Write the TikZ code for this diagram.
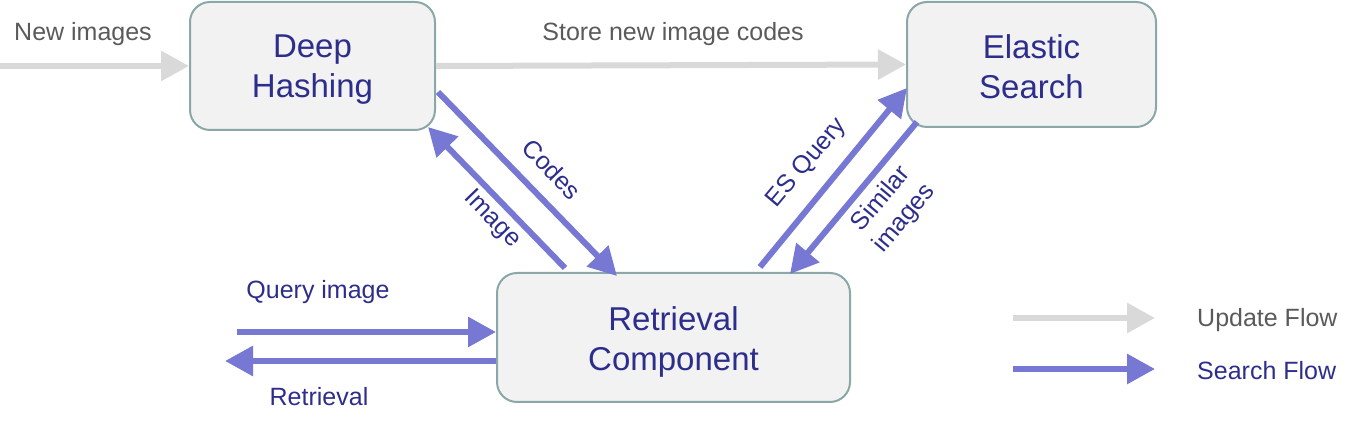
\documentclass[tikz,border=0pt]{standalone}
\usepackage{fontspec}
\setmainfont{Liberation Sans}
\usetikzlibrary{arrows.meta}
\definecolor{boxfill}{HTML}{F2F2F2}
\definecolor{boxline}{HTML}{8BA7A8}
\definecolor{upd}{HTML}{D9D9D9}
\definecolor{srch}{HTML}{7777D4}
\definecolor{navy}{HTML}{2D2D8C}
\definecolor{grtext}{HTML}{5A5A5A}
\tikzset{
  comp/.style={draw=boxline, fill=boxfill, line width=2pt, rounded corners=20pt, inner sep=0pt},
  comptext/.style={inner sep=0pt, align=center, text=navy, font=\fontsize{33}{40}\selectfont},
  updarrow/.style={draw=upd, line width=6pt, -{Triangle[length=28pt,width=29pt]}},
  srcharrow/.style={draw=srch, line width=6pt, -{Triangle[length=28pt,width=29pt]}},
  lbl/.style={font=\fontsize{25}{29}\selectfont, text=navy, inner sep=0pt, align=center},
  glbl/.style={font=\fontsize{25}{29}\selectfont, text=grtext, inner sep=0pt, align=center},
}
\begin{document}
\begin{tikzpicture}[x=1pt,y=-1pt]
\useasboundingbox (0,0) rectangle (1353,427);
% boxes
\node[comp, minimum width=245pt, minimum height=128pt] (dh) at (312.5,66) {};
\node[comp, minimum width=249pt, minimum height=125pt] (es) at (1031.5,64.5) {};
\node[comp, minimum width=353pt, minimum height=129pt] (rc) at (673.5,337.5) {};
\node[comptext] (dht) at ([yshift=-4pt]dh.center) {Deep\\Hashing};
\node[comptext] (est) at ([yshift=-2pt]es.center) {Elastic\\Search};
\node[comptext] (rct) at ([yshift=-4pt]rc.center) {Retrieval\\Component};
% free ends
\coordinate (newin) at (0,66);
\coordinate (codesA) at (438,92);
\coordinate (codesB) at (617,276);
\coordinate (imgA) at (565,268);
\coordinate (imgB) at (428,127);
\coordinate (esqA) at (760,267);
\coordinate (esqB) at (907,88);
\coordinate (simA) at (917,122);
\coordinate (simB) at (790,274);
\coordinate (qin) at (237,332);
\coordinate (rout) at (225,361);
\coordinate (lu1) at (1013,318);
\coordinate (lu2) at (1155,318);
\coordinate (ls1) at (1013,369);
\coordinate (ls2) at (1155,369);
% update flow
\draw[updarrow] (newin) -- (dh.west);
\draw[updarrow] (dh.east) -- (es.west);
% search flow
\draw[srcharrow] (codesA) -- (codesB);
\draw[srcharrow] (imgA) -- (imgB);
\draw[srcharrow] (esqA) -- (esqB);
\draw[srcharrow] (simA) -- (simB);
\draw[srcharrow] (qin) -- (qin -| rc.west);
\draw[srcharrow] (rout -| rc.west) -- (rout);
% labels
\node[glbl] (lnew) at (83,34) {New images};
\node[glbl] (lstore) at (673,34) {Store new image codes};
\node[lbl, rotate=-46] (lcodes) at (552,169) {Codes};
\node[lbl, rotate=-46] (limg) at (492,219) {Image};
\node[lbl, rotate=50] (lesq) at (807,163) {ES Query};
\node[lbl, rotate=50, font=\fontsize{25}{30}\selectfont] (lsim) at (893,209) {Similar\\images};
\node[lbl] (lq) at (318,292) {Query image};
\node[lbl] (lr) at (319,397) {Retrieval};
% legend
\draw[updarrow] (lu1) -- (lu2);
\draw[srcharrow] (ls1) -- (ls2);
\node[glbl, anchor=west] (lupd) at (1197,320) {Update Flow};
\node[lbl, anchor=west] (lsrch) at (1197,371) {Search Flow};
\end{tikzpicture}
\end{document}
